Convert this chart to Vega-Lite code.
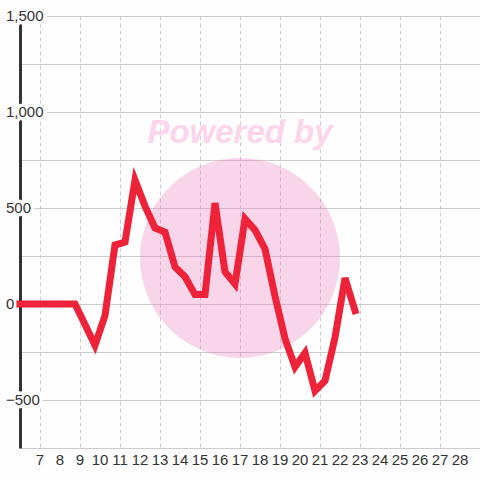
{
  "$schema": "https://vega.github.io/schema/vega-lite/v6.json",
  "width": 460,
  "height": 432,
  "autosize": {"type": "none"},
  "padding": {"left": 20, "top": 16, "right": 0, "bottom": 32},
  "background": "#fdfefd",
  "config": {
    "view": {"stroke": null},
    "axis": {"ticks": false, "tickSize": 0, "title": null, "labels": false},
    "axisX": {"domain": false, "grid": true, "gridColor": "#cccccc", "gridDash": [4, 3], "gridWidth": 1},
    "axisY": {"domain": true, "domainColor": "#333333", "domainWidth": 3, "grid": true, "gridColor": "#cccccc", "gridWidth": 1}
  },
  "datasets": {
    "series": [
      {"x": 6, "y": 0}, {"x": 6.25, "y": 0}, {"x": 6.75, "y": 0}, {"x": 7.25, "y": 0},
      {"x": 7.75, "y": 0}, {"x": 8.25, "y": 0}, {"x": 8.75, "y": 0},
      {"x": 9.75, "y": -215}, {"x": 10.25, "y": -60}, {"x": 10.75, "y": 307},
      {"x": 11.25, "y": 323}, {"x": 11.75, "y": 645}, {"x": 12.25, "y": 510},
      {"x": 12.75, "y": 396}, {"x": 13.25, "y": 375}, {"x": 13.75, "y": 193},
      {"x": 14.25, "y": 142}, {"x": 14.75, "y": 49}, {"x": 15.25, "y": 49},
      {"x": 15.75, "y": 526}, {"x": 16.25, "y": 168}, {"x": 16.75, "y": 104},
      {"x": 17.25, "y": 443}, {"x": 17.75, "y": 385}, {"x": 18.25, "y": 287},
      {"x": 18.75, "y": 40}, {"x": 19.25, "y": -180}, {"x": 19.75, "y": -328},
      {"x": 20.25, "y": -255}, {"x": 20.75, "y": -453}, {"x": 21.25, "y": -400},
      {"x": 21.75, "y": -175}, {"x": 22.25, "y": 135}, {"x": 22.75, "y": -35}
    ],
    "watermark": [{"x": 17, "y": 240, "label": "Powered by", "ty": 890}],
    "xlabels": [
      {"v": 7}, {"v": 8}, {"v": 9}, {"v": 10}, {"v": 11}, {"v": 12}, {"v": 13}, {"v": 14},
      {"v": 15}, {"v": 16}, {"v": 17}, {"v": 18}, {"v": 19}, {"v": 20}, {"v": 21}, {"v": 22},
      {"v": 23}, {"v": 24}, {"v": 25}, {"v": 26}, {"v": 27}, {"v": 28}
    ],
    "ylabels": [{"v": -500}, {"v": 0}, {"v": 500}, {"v": 1000}, {"v": 1500}]
  },
  "layer": [
    {
      "data": {"name": "watermark"},
      "mark": {"type": "point", "filled": true, "shape": "circle", "size": 40000, "color": "#f26cbc", "opacity": 0.28},
      "encoding": {
        "x": {
          "field": "x", "type": "quantitative", "scale": {"domain": [6, 29], "nice": false, "zero": false},
          "axis": {"values": [7,8,9,10,11,12,13,14,15,16,17,18,19,20,21,22,23,24,25,26,27,28], "labels": false}
        },
        "y": {
          "field": "y", "type": "quantitative", "scale": {"domain": [-750, 1500], "nice": false},
          "axis": {"values": [-750, -500, -250, 0, 250, 500, 750, 1000, 1250, 1500], "labels": false}
        }
      }
    },
    {
      "data": {"name": "watermark"},
      "mark": {"type": "text", "font": "Liberation Sans", "fontSize": 33, "fontWeight": "bold", "fontStyle": "italic", "color": "#fcd5ec", "align": "center", "baseline": "middle"},
      "encoding": {
        "x": {"field": "x", "type": "quantitative"},
        "y": {"field": "ty", "type": "quantitative"},
        "text": {"field": "label"}
      }
    },
    {
      "mark": {"type": "rule", "color": "#333333", "strokeWidth": 3},
      "encoding": {"y": {"datum": 0, "type": "quantitative"}}
    },
    {
      "data": {"name": "ylabels"},
      "mark": {"type": "text", "font": "Liberation Sans", "fontSize": 15, "fill": "#fdfefd", "stroke": "#fdfefd", "strokeWidth": 7, "strokeJoin": "miter", "align": "left", "baseline": "middle", "dx": -14, "clip": false},
      "encoding": {
        "x": {"datum": 6, "type": "quantitative"},
        "y": {"field": "v", "type": "quantitative"},
        "text": {"field": "v", "type": "quantitative", "format": ","}
      }
    },
    {
      "data": {"name": "ylabels"},
      "mark": {"type": "text", "font": "Liberation Sans", "fontSize": 15, "color": "#333333", "align": "left", "baseline": "middle", "dx": -14, "clip": false},
      "encoding": {
        "x": {"datum": 6, "type": "quantitative"},
        "y": {"field": "v", "type": "quantitative"},
        "text": {"field": "v", "type": "quantitative", "format": ","}
      }
    },
    {
      "data": {"name": "series"},
      "mark": {"type": "line", "color": "#ee2238", "strokeWidth": 7, "strokeJoin": "miter", "strokeCap": "square"},
      "encoding": {
        "x": {"field": "x", "type": "quantitative"},
        "y": {"field": "y", "type": "quantitative"}
      }
    },
    {
      "data": {"name": "xlabels"},
      "mark": {"type": "text", "font": "Liberation Sans", "fontSize": 15, "color": "#333333", "align": "center", "baseline": "top", "dy": 5, "clip": false},
      "encoding": {
        "x": {"field": "v", "type": "quantitative"},
        "y": {"datum": -750, "type": "quantitative"},
        "text": {"field": "v", "type": "quantitative"}
      }
    }
  ]
}
